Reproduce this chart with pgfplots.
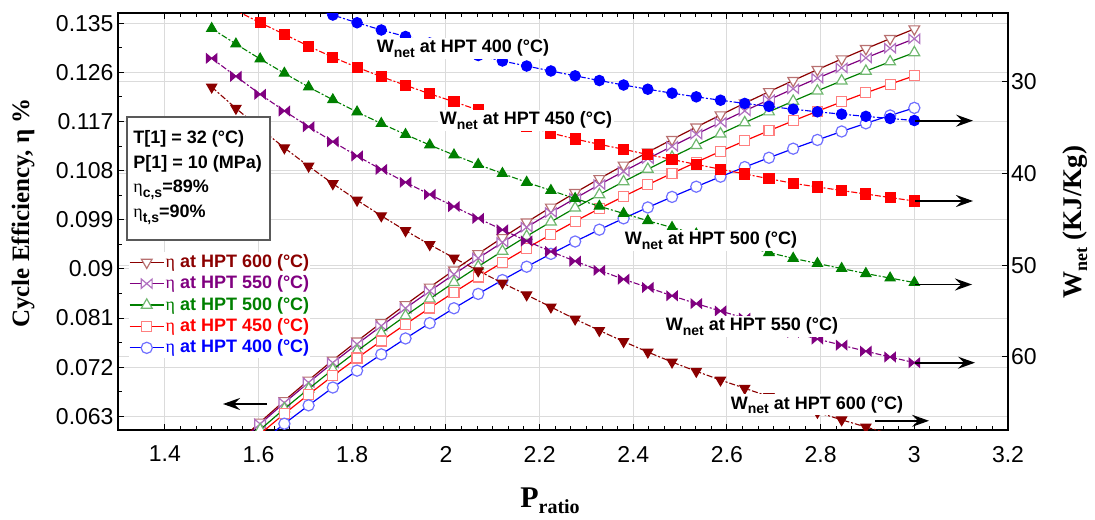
\documentclass[border=0pt]{standalone}
\usepackage{fontspec}
\setmainfont{Liberation Sans}
\newfontfamily\timesfont{Liberation Serif}
\usepackage{pgfplots}
\usepackage{pgfplotstable}
\pgfplotsset{compat=1.18}
\usetikzlibrary{arrows.meta}

\definecolor{c600}{HTML}{8B0000}
\definecolor{c550}{HTML}{800080}
\definecolor{c500}{HTML}{008000}
\definecolor{c450}{HTML}{FF0000}
\definecolor{c400}{HTML}{0000FF}
\definecolor{m600}{HTML}{B87070}
\definecolor{m550}{HTML}{B070C0}
\definecolor{m500}{HTML}{70B870}
\definecolor{m450}{HTML}{FF8080}
\definecolor{m400}{HTML}{7070FF}

\pgfdeclareplotmark{bowtie}{%
  \pgfpathmoveto{\pgfqpoint{-\pgfplotmarksize}{-0.85\pgfplotmarksize}}%
  \pgfpathlineto{\pgfqpoint{\pgfplotmarksize}{0.85\pgfplotmarksize}}%
  \pgfpathlineto{\pgfqpoint{\pgfplotmarksize}{-0.85\pgfplotmarksize}}%
  \pgfpathlineto{\pgfqpoint{-\pgfplotmarksize}{0.85\pgfplotmarksize}}%
  \pgfpathclose
  \pgfusepathqfillstroke}

\newcommand{\sub}[1]{\raisebox{-0.45ex}{\fontsize{7}{7}\selectfont #1}}
\newcommand{\heta}{{\timesfont\mdseries η}}

% P ratio, cycle efficiency (eN) and net work (wN) for HPT inlet N degC
\pgfplotstableread{
P       e600    e550    e500    e450    e400    w600  w550  w500  w450  w400
1.50000 0.05368 0.05348 0.05254 0.05201 0.05065 30.58 27.45 24.20 20.87 17.82
1.55172 0.05789 0.05763 0.05664 0.05599 0.05447 32.90 29.41 25.89 22.23 18.91
1.60345 0.06192 0.06161 0.06056 0.05978 0.05810 35.10 31.37 27.52 23.57 19.94
1.65517 0.06586 0.06549 0.06439 0.06348 0.06165 37.21 33.19 29.08 24.83 20.93
1.70690 0.06961 0.06919 0.06803 0.06699 0.06501 39.21 34.91 30.58 26.13 21.85
1.75862 0.07328 0.07280 0.07159 0.07042 0.06828 41.12 36.54 31.97 27.33 22.73
1.81034 0.07676 0.07623 0.07496 0.07367 0.07137 42.92 38.10 33.30 28.43 23.57
1.86207 0.08014 0.07955 0.07823 0.07681 0.07435 44.62 39.57 34.56 29.45 24.36
1.91379 0.08344 0.08280 0.08142 0.07987 0.07726 46.24 40.97 35.76 30.39 25.07
1.96552 0.08664 0.08594 0.08451 0.08283 0.08007 47.76 42.30 36.90 31.32 25.78
2.01724 0.08976 0.08901 0.08752 0.08571 0.08279 49.22 43.61 37.99 32.18 26.45
2.06897 0.09278 0.09197 0.09043 0.08850 0.08542 50.62 44.90 39.03 33.09 27.14
2.12069 0.09571 0.09485 0.09325 0.09119 0.08795 51.95 46.15 40.01 33.96 27.74
2.17241 0.09855 0.09763 0.09598 0.09379 0.09040 53.24 47.37 40.97 34.83 28.29
2.22414 0.10129 0.10032 0.09861 0.09629 0.09275 54.57 48.52 41.86 35.59 28.83
2.27586 0.10395 0.10292 0.10116 0.09871 0.09501 55.88 49.57 42.74 36.25 29.36
2.32759 0.10651 0.10543 0.10361 0.10104 0.09718 57.13 50.57 43.58 36.83 29.87
2.37931 0.10898 0.10784 0.10597 0.10327 0.09925 58.33 51.54 44.37 37.37 30.36
2.43103 0.11137 0.11018 0.10825 0.10542 0.10125 59.48 52.44 45.16 37.94 30.82
2.48276 0.11369 0.11244 0.11046 0.10750 0.10318 60.57 53.34 45.90 38.48 31.25
2.53448 0.11596 0.11466 0.11262 0.10953 0.10505 61.58 54.20 46.61 39.02 31.65
2.58621 0.11818 0.11682 0.11473 0.11152 0.10688 62.53 55.00 47.29 39.54 32.02
2.63793 0.12034 0.11893 0.11678 0.11344 0.10864 63.43 55.79 47.97 40.06 32.37
2.68966 0.12244 0.12097 0.11877 0.11530 0.11035 64.33 56.56 48.63 40.58 32.69
2.74138 0.12449 0.12297 0.12071 0.11711 0.11201 65.20 57.33 49.26 41.08 33.00
2.79310 0.12649 0.12491 0.12260 0.11887 0.11361 66.05 58.06 49.82 41.48 33.28
2.84483 0.12843 0.12680 0.12443 0.12058 0.11516 66.87 58.73 50.37 41.86 33.54
2.89655 0.13032 0.12863 0.12621 0.12223 0.11665 67.65 59.39 50.92 42.25 33.78
2.94828 0.13215 0.13041 0.12793 0.12382 0.11809 68.42 60.02 51.41 42.63 34.01
3.00000 0.13393 0.13213 0.12960 0.12536 0.11948 69.18 60.64 51.90 43.01 34.23
}\data

\pgfplotsset{
  base/.style={
    at={(0pt,0pt)}, anchor=south west, scale only axis,
    width=445pt, height=208.35pt,
    xmin=1.3, xmax=3.2,
    clip marker paths=true,
    grid style={draw=black!14, line width=0.5pt},
    axis line style={line width=0.8pt},
    tick style={black, line width=0.5pt},
    major tick length=3pt, minor tick length=2pt,
    /pgf/number format/assume math mode=true,
    ticklabel style={font=\fontsize{11.5}{12}\selectfont},
  },
  eff/.style={line width=0.6pt, mark size=3.1pt},
  wn/.style={line width=0.55pt, dash pattern=on 3pt off 1pt on 1pt off 1pt, mark size=2.9pt},
}

\begin{document}
\begin{tikzpicture}
\pgfplotsset{set layers}

\begin{axis}[base,
  ymin=0.0605, ymax=0.1368,
  xtick={1.4,1.6,1.8,2,2.2,2.4,2.6,2.8,3,3.2},
  ytick={0.063,0.072,0.081,0.09,0.099,0.108,0.117,0.126,0.135},
  minor x tick num=5, minor y tick num=1,
  ytick pos=left,
  grid=major,
  yticklabel style={/pgf/number format/fixed,/pgf/number format/precision=3,xshift=1.3pt},
  xticklabel style={yshift=-4.5pt},
  xlabel={P\sub{\fontsize{10}{10}\selectfont ratio}},
  xlabel style={at={(axis description cs:0.4854,-0.185)}, anchor=base,
    font=\timesfont\bfseries\fontsize{15}{16}\selectfont},
  ylabel={Cycle Efficiency, η \%},
  ylabel style={at={(axis description cs:-0.1067,0.5208)}, anchor=center,
    font=\timesfont\bfseries\fontsize{12.5}{14}\selectfont},
  legend cell align=left,
  legend style={draw=none, fill=white, inner sep=0pt,
    at={(axis description cs:0.012,0.428)}, anchor=north west,
    font=\fontsize{9}{10}\selectfont\bfseries, row sep=0.5pt,
    nodes={inner sep=0.6pt, text height=7pt, text depth=2pt}},
]
\addplot[c600, eff, mark=triangle*, mark options={solid, rotate=180, fill=white, draw=m600}]
  table[x=P, y=e600] {\data};
\addplot[c550, eff, mark=bowtie, mark size=2.7pt, mark options={solid, fill=white, draw=m550}]
  table[x=P, y=e550] {\data};
\addplot[c500, eff, mark=triangle*, mark options={solid, fill=white, draw=m500}]
  table[x=P, y=e500] {\data};
\addplot[c450, eff, mark=square*, mark size=2.5pt, mark options={solid, fill=white, draw=m450}]
  table[x=P, y=e450] {\data};
\addplot[c400, eff, mark=*, mark size=2.8pt, mark options={solid, fill=white, draw=m400}]
  table[x=P, y=e400] {\data};
\legend{
  \textcolor{c600}{\heta\ at HPT 600 (°C)},
  \textcolor{c550}{\heta\ at HPT 550 (°C)},
  \textcolor{c500}{\heta\ at HPT 500 (°C)},
  \textcolor{c450}{\heta\ at HPT 450 (°C)},
  \textcolor{c400}{\heta\ at HPT 400 (°C)}}
\end{axis}

\begin{axis}[base,
  ymin=22.54, ymax=67.98, y dir=reverse,
  axis y line*=right, axis x line=none,
  ytick={30,40,50,60},
  ymajorgrids,
  yticklabel style={xshift=-2pt},
  ylabel={W\sub{\fontsize{9}{9}\selectfont net} (KJ/Kg)},
  ylabel style={at={(axis description cs:1.0753,0.4992)}, anchor=center,
    font=\timesfont\bfseries\fontsize{13.5}{15}\selectfont},
]
\addplot[c600, wn, mark=triangle*, mark options={solid, rotate=180, fill=c600}]
  table[x=P, y=w600] {\data};
\addplot[c550, wn, mark=bowtie, mark size=2.6pt, mark options={solid, fill=c550}]
  table[x=P, y=w550] {\data};
\addplot[c500, wn, mark=triangle*, mark options={solid, fill=c500}]
  table[x=P, y=w500] {\data};
\addplot[c450, wn, mark=square*, mark size=2.5pt, mark options={solid, fill=c450}]
  table[x=P, y=w450] {\data};
\addplot[c400, wn, mark=*, mark size=2.6pt, mark options={solid, fill=c400}]
  table[x=P, y=w400] {\data};
\end{axis}

% annotations, in pixel units of the original figure
\begin{scope}[x=0.5pt, y=-0.5pt, shift={(-59pt,215pt)},
  lab/.style={fill=white, inner sep=1pt, anchor=base, font=\fontsize{9}{10}\selectfont\bfseries},
  arr/.style={black, line width=0.85pt, -{Stealth[length=8.5pt,width=6pt,inset=3pt]}}]
  \node[lab] at (463,53) {W\sub{net} at HPT 400 (°C)};
  \node[lab] at (526,125) {W\sub{net} at HPT 450 (°C)};
  \node[lab] at (711,245) {W\sub{net} at HPT 500 (°C)};
  \node[lab] at (752,331) {W\sub{net} at HPT 550 (°C)};
  \node[lab] at (817,409) {W\sub{net} at HPT 600 (°C)};

  \draw[arr] (267,404) -- (223,404);
  \draw[arr] (915,120.7) -- (973,120.7);
  \draw[arr] (915,201) -- (973,201);
  \draw[arr] (915,284.5) -- (972,284.5);
  \draw[arr] (915,362.7) -- (975,362.7);
  \draw[arr] (875,420.8) -- (929,420.8);

  \draw[black!65, fill=white, line width=0.7pt] (127,117) rectangle (270,240);
  \begin{scope}[every node/.style={anchor=base west, inner sep=0pt,
      font=\fontsize{9}{10}\selectfont\bfseries}]
    \node at (133,144) {T[1] = 32 (°C)};
    \node at (133,169) {P[1] = 10 (MPa)};
    \node at (133,193) {\heta\sub{c,s}=89\%};
    \node at (133,218) {\heta\sub{t,s}=90\%};
  \end{scope}
\end{scope}
\pgfresetboundingbox
\useasboundingbox (-59pt,-44.5pt) rectangle (488.5pt,215pt);
\end{tikzpicture}
\end{document}
